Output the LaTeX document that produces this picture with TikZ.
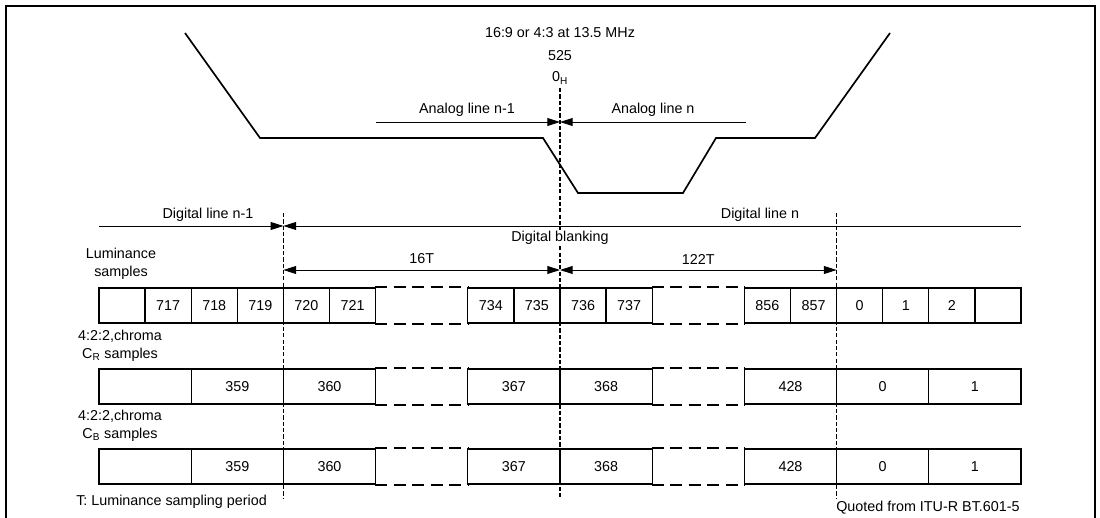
\documentclass[tikz,border=0pt]{standalone}
\usepackage{fontspec}
\setmainfont{Liberation Sans}
\usetikzlibrary{arrows.meta}

\begin{document}
\begin{tikzpicture}[
    x=0.025cm, y=-0.025cm,
    every node/.style={font=\fontsize{10.2}{12.8}\selectfont, inner sep=0pt},
    rowlabel/.style={align=center},
    wave/.style={line width=1.2pt},
    dim/.style={-{Triangle[length=9pt,width=5.6pt]}, line width=0.6pt},
    dimboth/.style={{Triangle[length=9pt,width=5.6pt]}-{Triangle[length=9pt,width=5.6pt]}, line width=0.6pt},
    marker/.style={line width=0.8pt, dash pattern=on 3pt off 1.5pt},
    lumcell/.style={draw, line width=0.9pt, minimum width=1.1525cm, minimum height=0.875cm},
    chrcell/.style={lumcell, minimum width=2.305cm},
    gapcell/.style={chrcell, draw=none},
    gapline/.style={line width=1.3pt, dash pattern=on 8.7pt off 4.5pt}
]
    \useasboundingbox (0,0) rectangle (1100,518);
    \draw [line width=1.4pt] (6,520) -- (6,6) -- (1095,6) -- (1095,520);

    % Analog waveform
    \draw [wave] (185,33) -- (260,138) -- (543,138) -- (578,193) -- (683,193)
        -- (716,138) -- (815,138) -- (890,33);

    \node (fmt) at (560,33) {16:9 or 4:3 at 13.5 MHz};
    \node (lines) at (560,56) {525};
    \node (zeroh) at (560,78) {0\textsubscript{H}};

    % Reference points
    \coordinate (mLt) at (283.4,213);
    \coordinate (mLb) at (283.4,498);
    \coordinate (mCt) at (560,88);
    \coordinate (mCb) at (560,498);
    \coordinate (mRt) at (836.6,213);
    \coordinate (mRb) at (836.6,498);
    \draw [marker] (mLt) -- (mLb);
    \draw [marker] (mCt) -- (mCb);
    \draw [marker] (mRt) -- (mRb);

    \coordinate (anaL) at (376,122);
    \coordinate (anaC) at (560,122);
    \coordinate (anaR) at (746,122);
    \draw [dim] (anaL) -- (anaC);
    \draw [dim] (anaR) -- (anaC);
    \node (anaprev) at (467,110) {Analog line n-1};
    \node (anacur) at (653,110) {Analog line n};

    \coordinate (digL) at (99,226);
    \coordinate (digM) at (283.4,226);
    \coordinate (digR) at (1021,226);
    \draw [dim] (digL) -- (digM);
    \draw [dim] (digR) -- (digM);
    \node (digprev) at (208,215) {Digital line n-1};
    \node (digcur) at (760,215) {Digital line n};
    \node [fill=white, inner sep=1pt] (digblank) at (560,238) {Digital blanking};

    \coordinate (tA) at (283.4,270);
    \coordinate (tB) at (560,270);
    \coordinate (tC) at (836.6,270);
    \draw [dimboth] (tA) -- (tB);
    \draw [dimboth] (tB) -- (tC);
    \node (t16) at (421.7,259) {16T};
    \node (t122) at (698.3,259) {122T};

    % Sample rows
    \node [rowlabel] (lumlabel) at (121,264) {Luminance\\samples};
    \node [rowlabel] (crlabel) at (120,346) {4:2:2,chroma\\C\textsubscript{R} samples};
    \node [rowlabel] (cblabel) at (120,426) {4:2:2,chroma\\C\textsubscript{B} samples};

    \foreach \i/\t in {0/{},1/717,2/718,3/719,4/720,5/721,8/734,9/735,10/736,11/737,14/856,15/857,16/0,17/1,18/2,19/{}}
        \node [lumcell] (lum\i) at ({99+46.1*(\i+0.5)},305.5) {\t};
    \node [gapcell] (lumgap1) at (421.7,305.5) {};
    \node [gapcell] (lumgap2) at (698.3,305.5) {};

    \foreach \rw/\y in {cr/386.5,cb/466.5} {
        \foreach \i/\t in {0/{},1/359,2/360,4/367,5/368,7/428,8/0,9/1}
            \node [chrcell] (\rw\i) at ({99+92.2*(\i+0.5)},\y) {\t};
        \node [gapcell] (\rw gap1) at (421.7,\y) {};
        \node [gapcell] (\rw gap2) at (698.3,\y) {};
    }

    \foreach \rw in {lum,cr,cb}
        \foreach \g in {1,2} {
            \draw [gapline] (\rw gap\g.north west) -- (\rw gap\g.north east);
            \draw [gapline] (\rw gap\g.south west) -- (\rw gap\g.south east);
        }

    % Notes
    \node [anchor=west] (period) at (76,502) {T: Luminance sampling period};
    \node [anchor=west] (source) at (836,508) {Quoted from ITU-R BT.601-5};
\end{tikzpicture}
\end{document}
